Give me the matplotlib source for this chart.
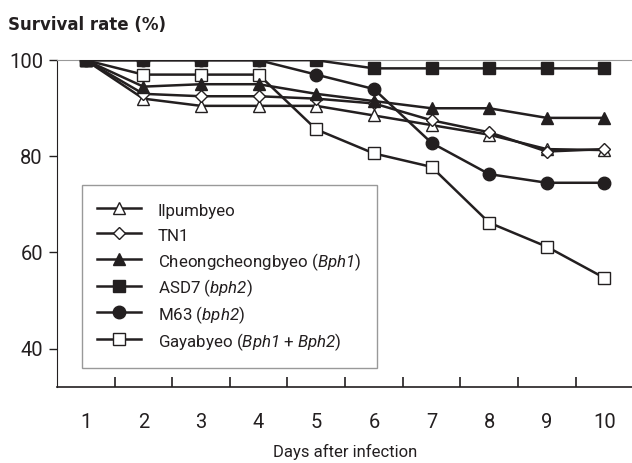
import numpy as np
import matplotlib
matplotlib.use("Agg")
import matplotlib.pyplot as plt

plt.rcParams['font.family'] = ['Roboto', 'DejaVu Sans']
plt.rcParams['mathtext.fontset'] = 'custom'
plt.rcParams['mathtext.rm'] = 'Roboto:italic'
plt.rcParams['mathtext.it'] = 'Roboto:italic'

# survival data
days = [1, 2, 3, 4, 5, 6, 7, 8, 9, 10]
ilpumbyeo = [100, 92, 90.5, 90.5, 90.5, 88.5, 86.5, 84.5, 81.5, 81.3]
tn1 = [100, 93, 92.5, 92.5, 92, 91, 87.5, 85, 81, 81.5]
cheongcheong = [100, 94.5, 95, 95, 93, 91.5, 90, 90, 88, 88]
asd7 = [100, 100, 100, 100, 100, 98.3, 98.3, 98.3, 98.3, 98.3]
m63 = [100, 100, 100, 100, 97, 94, 82.8, 76.3, 74.5, 74.5]
gayabyeo = [100, 97, 97, 97, 85.6, 80.6, 77.8, 66.2, 61.2, 54.7]

labels = ['Ilpumbyeo', 'TN1',
          r'Cheongcheongbyeo ($\mathrm{Bph1}$)', r'ASD7 ($\mathrm{bph2}$)',
          r'M63 ($\mathrm{bph2}$)', r'Gayabyeo ($\mathrm{Bph1}$ + $\mathrm{Bph2}$)']

ink = '#231f20'

fig = plt.figure(figsize=(6.32, 4.63), dpi=100)
ax = fig.add_axes([0.090, 0.164, 0.912, 0.706])

series = [ilpumbyeo, tn1, cheongcheong, asd7, m63, gayabyeo]
markers = ['^', 'D', '^', 's', 'o', 's']
sizes = [9, 6.5, 9, 8.5, 9, 8.5]
faces = ['white', 'white', ink, ink, ink, 'white']
zorders = [3, 3, 4, 5, 6, 2]

for vals, lab, mk, ms, fc, zo in zip(series, labels, markers, sizes, faces, zorders):
    ax.plot(days, vals, color=ink, lw=1.8, marker=mk, ms=ms, mfc=fc,
            mec=ink, mew=1.0, label=lab, zorder=zo)

ax.set_xlim(0.5, 10.5)
ax.set_ylim(32, 100)
ax.set_xticks(days)
ax.set_xticks(np.arange(1.5, 10, 1), minor=True)
ax.set_yticks([40, 60, 80, 100])
ax.tick_params(axis='x', which='major', length=0, pad=19, labelsize=14.5, colors=ink)
ax.tick_params(axis='x', which='minor', direction='in', length=7, width=1.2, color=ink)
ax.tick_params(axis='y', direction='out', length=6, width=1, pad=4, labelsize=14.5, colors=ink)

ax.spines['left'].set_color(ink)
ax.spines['bottom'].set_color(ink)
ax.spines['bottom'].set_linewidth(1.2)
ax.spines['top'].set_color('#999999')
ax.spines['right'].set_visible(False)

ax.set_xlabel('Days after infection', fontsize=12, color=ink, labelpad=8)
fig.text(0.013, 0.935, 'Survival rate (%)', fontsize=12, fontweight='bold',
         family=['DejaVu Sans'], color=ink)

# a tall handle box keeps every legend row the same height
leg = ax.legend(loc='lower left', bbox_to_anchor=(0.043, 0.058),
                borderaxespad=0, frameon=True, fancybox=False, fontsize=12.2,
                handlelength=2.6, handleheight=1.5, handletextpad=1.0,
                labelspacing=0.29, borderpad=0.9, labelcolor=ink)
leg.get_frame().set_edgecolor('#808080')
leg.get_frame().set_linewidth(1.0)

fig.savefig('out.png', dpi=100)
